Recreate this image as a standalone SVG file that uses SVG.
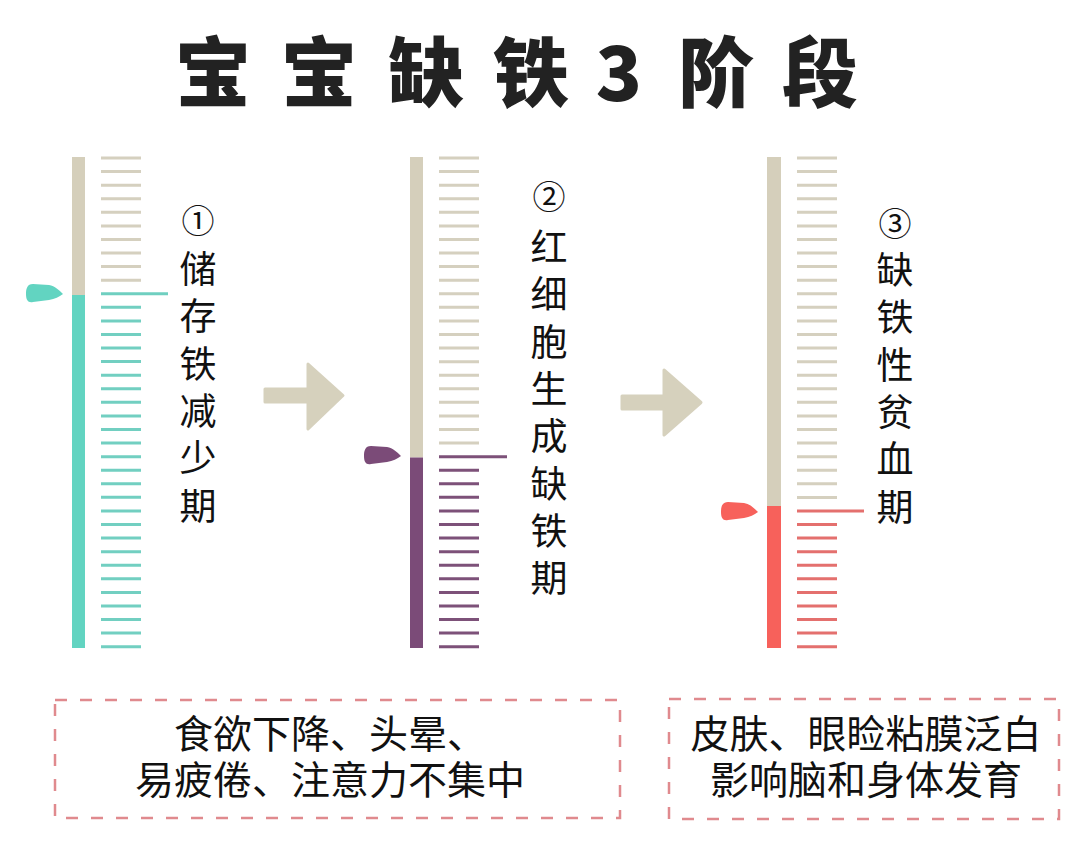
<svg xmlns="http://www.w3.org/2000/svg" width="1080" height="846" viewBox="0 0 1080 846">
<style>
.title{font-family:"Noto Sans CJK SC","Noto Sans",sans-serif;font-weight:900;font-size:76px;fill:#222;text-anchor:middle}
.vt{font-family:"Noto Sans CJK SC","Noto Sans",sans-serif;font-size:37px;fill:#111;text-anchor:middle}
.num{font-size:33px}
.bt{font-family:"Noto Sans CJK SC","Noto Sans",sans-serif;font-size:39px;fill:#111;text-anchor:middle}
.tick{stroke-width:40;stroke-dasharray:3 10.575;fill:none}
.long{stroke-width:3;fill:none}
.box{fill:none;stroke:#e08a8e;stroke-width:2.5;stroke-dasharray:12 13}
.arrow{fill:#d6d1bd;stroke:#d6d1bd;stroke-width:3;stroke-linejoin:round}
</style>
<defs>
<path id="ptr" d="M0,0 C-4,-4 -8,-8 -14,-9 L-30,-10 C-36,-10 -37,-5 -37,0 C-37,6 -35,9 -30,8 L-14,6 C-8,5 -4,3 0,0 Z"/>
</defs>
<rect width="1080" height="846" fill="#ffffff"/>

<g id="title">
<text class="title" x="213" y="101">宝</text>
<text class="title" x="319" y="101">宝</text>
<text class="title" x="426" y="101">缺</text>
<text class="title" x="531" y="101">铁</text>
<text class="title" x="619" y="101">3</text>
<text class="title" x="716" y="101">阶</text>
<text class="title" x="820" y="101">段</text>
</g>

<g id="stage1">
<rect x="72" y="157" width="13" height="138" fill="#d5cfbb"/>
<rect x="72" y="295" width="13" height="353" fill="#62d4c1"/>
<line class="tick" x1="121" y1="156.5" x2="121" y2="281.7" stroke="#d5d0bf"/>
<line class="long" x1="101" y1="293.75" x2="168" y2="293.75" stroke="#6fcfc0"/>
<line class="tick" x1="121" y1="305.8" x2="121" y2="648.2" stroke="#72cfc1"/>
<use href="#ptr" transform="translate(63,294)" fill="#62d4c1"/>
<text class="vt"><tspan class="num" x="198" y="233">①</tspan><tspan x="198" y="283">储</tspan><tspan x="198" y="330">存</tspan><tspan x="198" y="377.6">铁</tspan><tspan x="198" y="425">减</tspan><tspan x="198" y="472">少</tspan><tspan x="198" y="519.5">期</tspan></text>
</g>

<g id="stage2">
<rect x="410" y="157" width="13" height="300.5" fill="#d5cfbb"/>
<rect x="410" y="457.5" width="13" height="190.5" fill="#7b4b78"/>
<line class="tick" x1="459" y1="156.5" x2="459" y2="444.6" stroke="#d5d0bf"/>
<line class="long" x1="439" y1="456.65" x2="507" y2="456.65" stroke="#7d5179"/>
<line class="tick" x1="459" y1="468.7" x2="459" y2="648.2" stroke="#7d5179"/>
<use href="#ptr" transform="translate(401,456)" fill="#7b4b78"/>
<text class="vt"><tspan class="num" x="549" y="209">②</tspan><tspan x="549" y="261">红</tspan><tspan x="549" y="308.3">细</tspan><tspan x="549" y="355.6">胞</tspan><tspan x="549" y="402.9">生</tspan><tspan x="549" y="450.2">成</tspan><tspan x="549" y="497.5">缺</tspan><tspan x="549" y="544.8">铁</tspan><tspan x="549" y="592">期</tspan></text>
</g>

<g id="stage3">
<rect x="767" y="157" width="14" height="349" fill="#d5cfbb"/>
<rect x="767" y="506" width="14" height="142" fill="#f7615b"/>
<line class="tick" x1="817" y1="156.5" x2="817" y2="498.9" stroke="#d5d0bf"/>
<line class="long" x1="797" y1="510.95" x2="864" y2="510.95" stroke="#e4706e"/>
<line class="tick" x1="817" y1="523" x2="817" y2="648.2" stroke="#e4706e"/>
<use href="#ptr" transform="translate(758,512)" fill="#f7615b"/>
<text class="vt"><tspan class="num" x="895" y="236">③</tspan><tspan x="895" y="284">缺</tspan><tspan x="895" y="331.3">铁</tspan><tspan x="895" y="378.6">性</tspan><tspan x="895" y="425.9">贫</tspan><tspan x="895" y="473.2">血</tspan><tspan x="895" y="520.5">期</tspan></text>
</g>

<g id="connectors">
<polygon class="arrow" points="265,389 308,389 308,364 343,395.5 308,429 308,402 265,402"/>
<polygon class="arrow" points="622,396 664,396 664,370 701,402.5 664,435 664,409 622,409"/>
</g>

<g id="note1">
<rect class="box" x="55" y="700" width="565" height="118"/>
<text class="bt" x="330" y="748">食欲下降、头晕、</text>
<text class="bt" x="330" y="794">易疲倦、注意力不集中</text>
</g>

<g id="note2">
<rect class="box" x="669" y="699" width="390" height="120"/>
<text class="bt" x="866" y="748">皮肤、眼睑粘膜泛白</text>
<text class="bt" x="866" y="794">影响脑和身体发育</text>
</g>
</svg>
